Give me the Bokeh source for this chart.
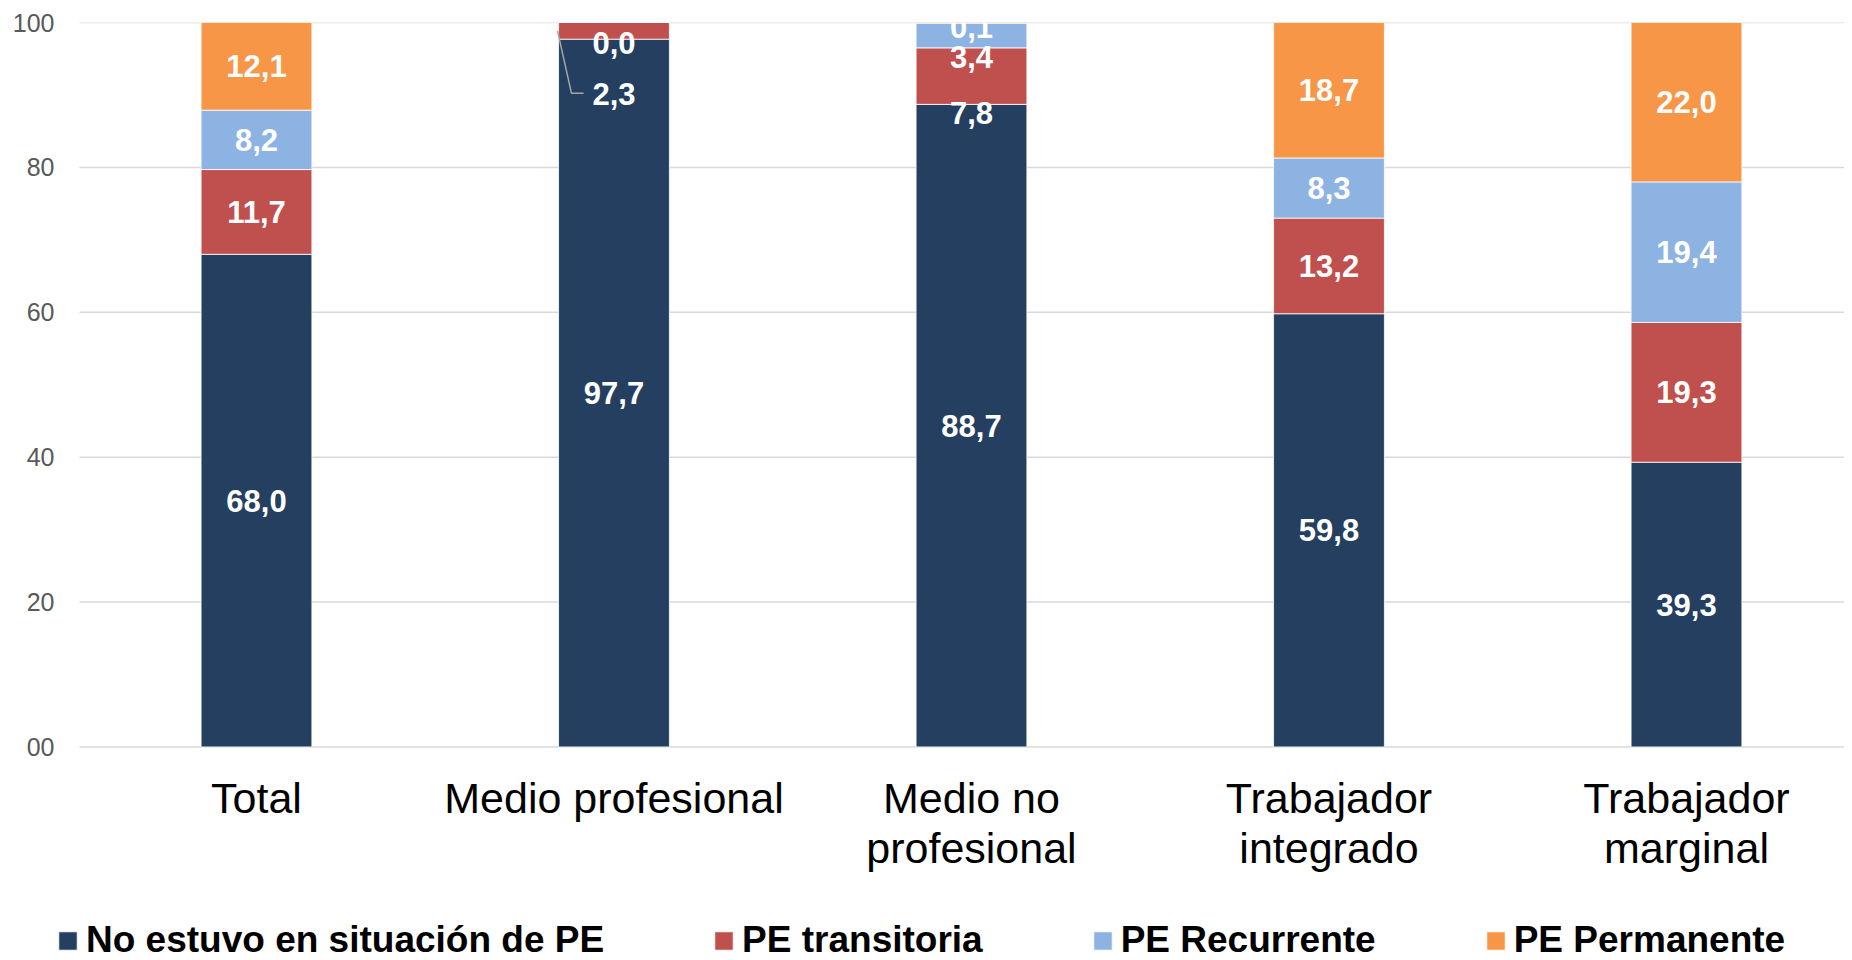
from bokeh.plotting import figure
from bokeh.models import Range1d, FixedTicker, ColumnDataSource, Legend, LegendItem
from bokeh.core.properties import value
from bokeh.embed import file_html
from bokeh.resources import INLINE

# ---------------- data ----------------
categories = ["Total", "Medio profesional", "Medio no\nprofesional",
              "Trabajador\nintegrado", "Trabajador\nmarginal"]
series_names = ["No estuvo en situación de PE", "PE transitoria",
                "PE Recurrente", "PE Permanente"]
no_pe = [68.0, 97.7, 88.7, 59.8, 39.3]
transitoria = [11.7, 2.3, 7.8, 13.2, 19.3]
recurrente = [8.2, 0.0, 3.4, 8.3, 19.4]
permanente = [12.1, 0.0, 0.1, 18.7, 22.0]
y_ticks = [0, 20, 40, 60, 80, 100]

# ---------------- styles / layout ----------------
colors = ["#243F60", "#C0504D", "#8DB3E2", "#F79646"]
FONT = "Liberation Sans"
BAR_W = 0.31
X_START, X_END = -0.5594, 4.442
GRID_X0 = -0.495        # gridlines start a little right of the frame edge
Y_MIN = -29.48          # room below the baseline for category labels and legend
CAT_LINE1_Y = -7.0
CAT_LINE2_Y = -13.9
# label placement tweaks for crowded segments: (series index, category index) -> y position
label_y_override = {(1, 1): 90.1, (2, 1): 97.15,
                    (1, 2): 87.5, (2, 2): 95.2, (3, 2): 99.4}
hidden_labels = {(3, 1)}

p = figure(width=1844, height=960, output_backend="svg", toolbar_location=None,
           x_range=Range1d(X_START, X_END), y_range=Range1d(Y_MIN, 100),
           min_border_left=56, min_border_right=0, min_border_top=22,
           min_border_bottom=0)
p.outline_line_color = None
p.background_fill_color = "white"
p.border_fill_color = "white"
p.xgrid.grid_line_color = None
p.ygrid.grid_line_color = None

# horizontal gridlines at the y ticks
p.segment(x0=[GRID_X0] * len(y_ticks), x1=[X_END] * len(y_ticks), y0=y_ticks, y1=y_ticks,
          line_color="#D9D9D9", line_width=1.5)

xs = list(range(len(categories)))
series = [no_pe, transitoria, recurrente, permanente]
bottoms = [0.0] * len(categories)
renderers = []
lab_x, lab_y, lab_t = [], [], []
for si, vals in enumerate(series):
    tops = [b + v for b, v in zip(bottoms, vals)]
    src = ColumnDataSource(dict(x=xs, bottom=bottoms, top=tops))
    r = p.vbar(x="x", bottom="bottom", top="top", width=BAR_W, source=src,
               fill_color=colors[si], line_color="white", line_width=0.8)
    renderers.append(r)
    for ci, v in enumerate(vals):
        if (si, ci) in hidden_labels:
            continue
        y = label_y_override.get((si, ci), (bottoms[ci] + tops[ci]) / 2)
        lab_x.append(ci)
        lab_y.append(y)
        lab_t.append(f"{v:.1f}".replace(".", ","))
    bottoms = tops

# leader line for the small segment of "Medio profesional"
ci = 1
p.line(x=[ci - 0.158, ci - 0.119, ci - 0.085], y=[98.85, 90.25, 90.25],
       line_color="#A6A6A6", line_width=1.5)

p.text(x=lab_x, y=lab_y, text=lab_t, text_align="center", text_baseline="middle",
       text_color="white", text_font=value(FONT), text_font_style="bold",
       text_font_size="31px")

# category labels (two lines) under the bars
line1 = [c.split("\n")[0] for c in categories]
line2 = [c.split("\n")[1] if "\n" in c else "" for c in categories]
p.text(x=xs, y=[CAT_LINE1_Y] * len(xs), text=line1, text_align="center",
       text_baseline="middle", text_color="black", text_font=value(FONT),
       text_font_size="43px")
p.text(x=xs, y=[CAT_LINE2_Y] * len(xs), text=line2, text_align="center",
       text_baseline="middle", text_color="black", text_font=value(FONT),
       text_font_size="43px")

# y axis
p.yaxis.ticker = FixedTicker(ticks=y_ticks)
p.yaxis.major_label_overrides = {0: "00"}
p.yaxis.axis_line_color = None
p.yaxis.major_tick_line_color = None
p.yaxis.minor_tick_line_color = None
p.yaxis.major_tick_out = 0
p.yaxis.major_tick_in = 0
p.yaxis.major_label_text_font = FONT
p.yaxis.major_label_text_font_size = "25px"
p.yaxis.major_label_text_color = "#595959"
p.yaxis.major_label_standoff = 2

p.xaxis.visible = False

legend = Legend(items=[LegendItem(label=n, renderers=[r]) for n, r in zip(series_names, renderers)],
                orientation="horizontal", location=(0, -1),
                glyph_width=23, glyph_height=23, label_standoff=7, spacing=108,
                padding=0, margin=0, border_line_color=None, background_fill_alpha=0,
                label_text_font=FONT, label_text_font_style="bold",
                label_text_font_size="37px", label_text_color="black",
                label_height=37)
p.add_layout(legend, "center")

open("out.html", "w").write(file_html(p, INLINE))
